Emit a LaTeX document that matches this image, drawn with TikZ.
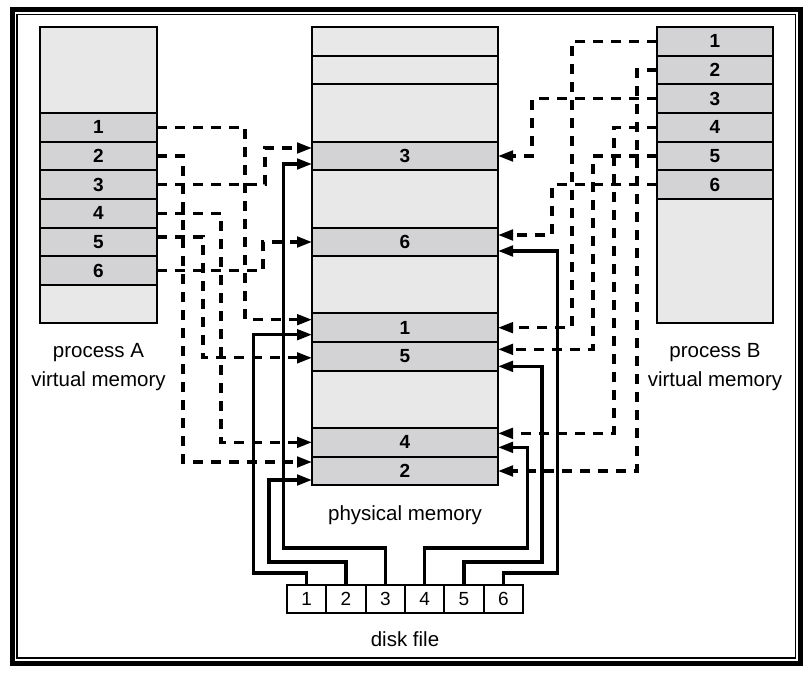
\documentclass[tikz,border=0pt]{standalone}
\usepackage{fontspec}
\setmainfont{Liberation Sans}
\usetikzlibrary{arrows.meta}
\definecolor{lightrow}{RGB}{232,232,232}
\definecolor{darkrow}{RGB}{211,211,214}
\begin{document}
\begin{tikzpicture}[x=1pt,y=-1pt,
  box/.style={draw, line width=2pt, rectangle, inner sep=0pt, outer sep=0pt},
  lrow/.style={box, fill=lightrow},
  drow/.style={box, fill=darkrow, font=\fontsize{19}{19}\selectfont\bfseries},
  acol/.style={minimum width=117pt},
  bcol/.style={minimum width=116pt},
  pcol/.style={minimum width=186pt},
  cell/.style={box, fill=white, minimum width=39.33pt, minimum height=28pt, font=\fontsize{19}{19}\selectfont},
  lbl/.style={anchor=base, inner sep=0pt, font=\fontsize{20.5}{24}\selectfont},
  dsh/.style={line width=3.2pt, dash pattern=on 10pt off 8pt, -{Triangle[length=15pt,width=10.5pt]}},
  sol/.style={line width=3.2pt, -{Triangle[length=15pt,width=10.5pt]}}
]
\useasboundingbox (0,0) rectangle (810,675);
% frame
\draw[line width=5pt] (12.5,9.5) rectangle (800.5,663.5);
\draw[line width=1.2pt] (17,14.5) rectangle (795.5,658);

% process A
\node[lrow, acol, minimum height=86pt] (AT) at (98.5,70) {};
\node[drow, acol, minimum height=28.667pt] (A1) at (98.5,127.33) {1};
\node[drow, acol, minimum height=28.667pt] (A2) at (98.5,156) {2};
\node[drow, acol, minimum height=28.667pt] (A3) at (98.5,184.67) {3};
\node[drow, acol, minimum height=28.667pt] (A4) at (98.5,213.33) {4};
\node[drow, acol, minimum height=28.667pt] (A5) at (98.5,242) {5};
\node[drow, acol, minimum height=28.667pt] (A6) at (98.5,270.67) {6};
\node[lrow, acol, minimum height=38pt] (AB) at (98.5,304) {};
\node[lbl] (la1) at (98.5,357) {process A};
\node[lbl] (la2) at (98.5,386) {virtual memory};

% process B
\node[drow, bcol, minimum height=28.667pt] (B1) at (715,41.33) {1};
\node[drow, bcol, minimum height=28.667pt] (B2) at (715,70) {2};
\node[drow, bcol, minimum height=28.667pt] (B3) at (715,98.67) {3};
\node[drow, bcol, minimum height=28.667pt] (B4) at (715,127.33) {4};
\node[drow, bcol, minimum height=28.667pt] (B5) at (715,156) {5};
\node[drow, bcol, minimum height=28.667pt] (B6) at (715,184.67) {6};
\node[lrow, bcol, minimum height=124pt] (BB) at (715,261) {};
\node[lbl] (lb1) at (715,357) {process B};
\node[lbl] (lb2) at (715,386) {virtual memory};

% physical memory
\node[lrow, pcol, minimum height=28.667pt] (PL1) at (405,41.33) {};
\node[lrow, pcol, minimum height=28.667pt] (PL2) at (405,70) {};
\node[lrow, pcol, minimum height=57.333pt] (PL3) at (405,113) {};
\node[drow, pcol, minimum height=28.667pt] (P3) at (405,156) {3};
\node[lrow, pcol, minimum height=57.333pt] (PL4) at (405,199) {};
\node[drow, pcol, minimum height=28.667pt] (P6) at (405,242) {6};
\node[lrow, pcol, minimum height=57.333pt] (PL5) at (405,285) {};
\node[drow, pcol, minimum height=28.667pt] (P1) at (405,327.67) {1};
\node[drow, pcol, minimum height=28.667pt] (P5) at (405,356.33) {5};
\node[lrow, pcol, minimum height=57.333pt] (PL6) at (405,399.33) {};
\node[drow, pcol, minimum height=28.667pt] (P4) at (405,442.33) {4};
\node[drow, pcol, minimum height=28.667pt] (P2) at (405,471) {2};
\node[lbl] (lp) at (405,520) {physical memory};

% disk file
\node[cell] (D1) at (306.67,599) {1};
\node[cell] (D2) at (346,599) {2};
\node[cell] (D3) at (385.33,599) {3};
\node[cell] (D4) at (424.67,599) {4};
\node[cell] (D5) at (464,599) {5};
\node[cell] (D6) at (503.33,599) {6};
\node[lbl] (ld) at (405,646) {disk file};

% dashed mappings, process A
\draw[dsh] (A1.east) -- ++(88,0) |- ([yshift=8pt]P1.west);
\draw[dsh] (A2.east) -- ++(26,0) |- ([yshift=9pt]P2.west);
\draw[dsh] (A3.east) -- ++(108,0) |- ([yshift=8pt]P3.west);
\draw[dsh] (A4.east) -- ++(64,0) |- (P4.west);
\draw[dsh] ([yshift=5pt]A5.east) -- ++(46,0) |- ([yshift=-1.5pt]P5.west);
\draw[dsh] (A6.east) -- ++(106,0) |- (P6.west);

% dashed mappings, process B
\draw[dsh] (B1.west) -- ++(-85,0) |- (P1.east);
\draw[dsh] (B2.west) -- ++(-20,0) |- (P2.east);
\draw[dsh] (B3.west) -- ++(-125,0) |- (P3.east);
\draw[dsh] (B4.west) -- ++(-43,0) |- ([yshift=9pt]P4.east);
\draw[dsh] (B5.west) -- ++(-64,0) |- ([yshift=7pt]P5.east);
\draw[dsh] (B6.west) -- ++(-105,0) |- ([yshift=7pt]P6.east);

% solid mappings from disk file
\draw[sol] (D1.north) -- ++(0,-12) -- ++(-53,0) |- ([yshift=-7pt]P1.west);
\draw[sol] (D2.north) -- ++(0,-23) -- ++(-77,0) |- ([yshift=-9pt]P2.west);
\draw[sol] (D3.north) -- ++(0,-37) -- ++(-102,0) |- ([yshift=-8pt]P3.west);
\draw[sol] (D4.north) -- ++(0,-37) -- ++(103,0) |- ([yshift=-5pt]P4.east);
\draw[sol] (D5.north) -- ++(0,-23) -- ++(78,0) |- ([yshift=-10pt]P5.east);
\draw[sol] (D6.north) -- ++(0,-12) -- ++(54,0) |- ([yshift=-9pt]P6.east);
\end{tikzpicture}
\end{document}
